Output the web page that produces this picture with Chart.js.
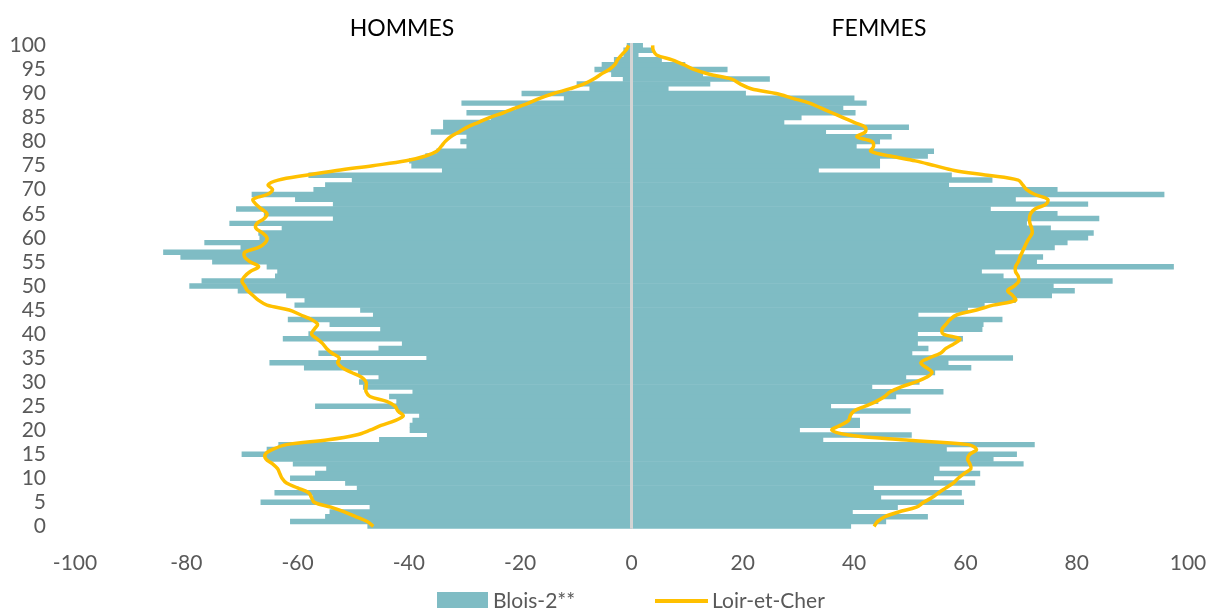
<!DOCTYPE html>
<html>
<head>
<meta charset="utf-8">
<script src="https://cdn.jsdelivr.net/npm/chart.js@4.4.1/dist/chart.umd.min.js"></script>
<style>
  body { margin: 0; background: #fff; }
  #wrap { position: relative; width: 1215px; height: 610px; font-family: Lato, "Open Sans", sans-serif; }
  #chart { position: absolute; left: 0; top: 0; }
  .side { position: absolute; top: 13px; font-size: 23px; line-height: 28px; color: #000; transform: translateX(-50%); }
  .leg { position: absolute; font-size: 21px; line-height: 24px; color: #595959; }
  .swatch { position: absolute; }
</style>
</head>
<body>
<div id="wrap">
  <canvas id="chart" width="1215" height="610"></canvas>
  <div class="side" style="left:402px">HOMMES</div>
  <div class="side" style="left:879px">FEMMES</div>
  <div class="swatch" style="left:437px;top:592px;width:51px;height:16px;background:#7FBCC4"></div>
  <div class="leg" style="left:493px;top:588px">Blois-2**</div>
  <div class="swatch" style="left:655px;top:599px;width:53px;height:4px;background:#FFC000"></div>
  <div class="leg" style="left:712px;top:588px">Loir-et-Cher</div>
</div>
<script>
// ages 0 -> 100
const ages = [
  '0','1','2','3','4','5','6','7','8','9',
  '10','11','12','13','14','15','16','17','18','19',
  '20','21','22','23','24','25','26','27','28','29',
  '30','31','32','33','34','35','36','37','38','39',
  '40','41','42','43','44','45','46','47','48','49',
  '50','51','52','53','54','55','56','57','58','59',
  '60','61','62','63','64','65','66','67','68','69',
  '70','71','72','73','74','75','76','77','78','79',
  '80','81','82','83','84','85','86','87','88','89',
  '90','91','92','93','94','95','96','97','98','99',
  '100'
];

// Blois-2** - hommes (negatif)
const bloisHommes = [
  -47.4, -61.3, -55, -54.2, -47, -66.6, -57.2, -64.1, -49.3, -51.4,
  -61.3, -56.8, -54.8, -60.8, -65.5, -70, -65.5, -63.4, -45.3, -36.7,
  -39.8, -39.8, -39.3, -38.1, -41.9, -56.8, -42.2, -43.5, -39.3, -48.2,
  -48.9, -45.4, -49.1, -58.8, -65, -36.8, -56.2, -45.4, -41.2, -62.6,
  -58, -45.1, -54.2, -61.7, -46.4, -48.7, -60.5, -58.7, -62, -70.7,
  -79.4, -77.2, -64, -63.6, -65.5, -75.3, -81, -84.1, -70.2, -76.7,
  -66.8, -67, -62.8, -72.2, -53.6, -66, -71, -53.6, -60.4, -68.2,
  -57.1, -55, -50.2, -58, -34, -39.5, -39.9, -37, -35, -29.6,
  -30.7, -29.6, -36, -33.8, -33.8, -25.2, -29.6, -20.8, -30.5, -12.1,
  -19.7, -7.5, -9.8, -1.5, -3.6, -6.6, -5.3, -3.1, -1.4, -1.4,
  -0.8
];

// Blois-2** - femmes
const bloisFemmes = [
  39.4, 45.7, 53.2, 39.7, 47.8, 59.7, 44.8, 59.3, 43.5, 61.7,
  54.3, 62.6, 55.3, 70.4, 65, 69.2, 56.6, 72.4, 34.4, 50.3,
  30.2, 41, 41, 39.5, 50.1, 35.8, 44.3, 47.5, 56, 43.2,
  51.7, 49.3, 54.5, 61, 56.9, 68.5, 50.4, 53.3, 51.4, 59.5,
  51.4, 63, 63.2, 66.6, 51.5, 60.4, 63.4, 69, 75.5, 79.6,
  75.8, 86.4, 66.8, 62.9, 97.4, 72.8, 73.9, 65.3, 76, 78.3,
  82, 83, 75.3, 71, 84, 76.5, 64.5, 82, 69, 95.7,
  76.5, 57, 64.8, 57.5, 33.6, 44.6, 44.6, 53.2, 54.3, 40.4,
  44.6, 46.7, 34.9, 49.8, 27.4, 30.5, 40.2, 38, 42.2, 40,
  20.5, 6.6, 14.1, 24.8, 12.8, 17.2, 9.6, 5.4, 1.2, 3.8,
  2
];

// Loir-et-Cher - hommes
const loirHommes = [
  -46.4, -47.5, -49.5, -51.6, -54, -57, -57.5, -58, -60, -62,
  -62.8, -63.2, -63.6, -64.5, -65.7, -65.8, -64.5, -62, -54.5, -49.5,
  -47, -45, -42.5, -41, -42, -42.5, -44, -47, -47.7, -47.7,
  -47.7, -48.5, -50.3, -52, -52.8, -52.5, -53.8, -54.8, -55.5, -56.5,
  -57.5, -57, -56.4, -57.5, -59.5, -61.5, -65.5, -67, -68, -69,
  -69.5, -70, -69.5, -68.5, -67, -68.5, -69.5, -69.5, -67, -65.8,
  -65.5, -66.3, -67.5, -67.3, -66, -65.5, -66.5, -67.5, -68, -65.5,
  -64.5, -65.3, -63.5, -58.5, -53, -46.5, -40.5, -37, -35, -34.2,
  -33.5, -32.5, -31, -29.5, -27.5, -25.5, -23, -20.8, -18.5, -16.5,
  -14, -11, -8.5, -6.8, -5.5, -4, -3, -2.5, -1.8, -1,
  -0.5
];

// Loir-et-Cher - femmes
const loirFemmes = [
  43.6, 44.2, 45.5, 48, 51.2, 52.5, 54, 55.2, 56.5, 57.8,
  58.7, 59.8, 61, 60.8, 60.4, 60.8, 62, 60.5, 48.5, 39,
  36, 37.5, 39, 39.3, 40, 42, 44, 45.5, 46.5, 48.5,
  51, 53, 54, 53, 52, 53.5, 55.5, 56.5, 58, 59,
  56, 55.8, 56.5, 57.2, 58.5, 62, 65, 69, 68.5, 67.6,
  68.8, 69.6, 69.5, 69, 69, 69.5, 69.8, 70.2, 70.6, 71,
  71.5, 72, 71.9, 71.6, 71.5, 71.7, 72.5, 74.5, 74.8, 72.5,
  71, 70.3, 69.5, 64, 58, 54.5, 51, 46.5, 43, 43.5,
  43.2, 40.5, 42, 42, 40, 38, 36, 34, 32, 29,
  26, 21.5, 19.5, 18, 14, 11.2, 9.4, 7.3, 4.5, 3.9,
  3.8
];

const xTicks = [-100, -80, -60, -40, -20, 0, 20, 40, 60, 80, 100];

const teal = '#7FBCC4';
const gold = '#FFC000';
const grey = '#595959';

// vertical axis line at 0, drawn above the bars
const zeroLine = {
  id: 'zeroLine',
  afterDatasetDraw(chart, args) {
    if (args.meta.type !== 'bar') return;
    const ctx = chart.ctx;
    const x = chart.scales.x.getPixelForValue(0);
    ctx.save();
    ctx.strokeStyle = '#D4D4D4';
    ctx.lineWidth = 3;
    ctx.beginPath();
    ctx.moveTo(x, chart.chartArea.top);
    ctx.lineTo(x, chart.chartArea.bottom);
    ctx.stroke();
    ctx.restore();
  }
};

const barDefaults = {
  type: 'bar',
  indexAxis: 'y',
  backgroundColor: teal,
  borderWidth: 0,
  barPercentage: 1,
  categoryPercentage: 1,
  grouped: false,
  order: 2
};

const lineDefaults = {
  type: 'line',
  indexAxis: 'y',
  borderColor: gold,
  borderWidth: 3.5,
  pointRadius: 0,
  tension: 0.35,
  fill: false,
  order: 1
};

new Chart(document.getElementById('chart'), {
  data: {
    labels: ages,
    datasets: [
      Object.assign({ label: 'Blois-2**', data: bloisHommes }, barDefaults),
      Object.assign({ label: 'Blois-2**', data: bloisFemmes }, barDefaults),
      Object.assign({ label: 'Loir-et-Cher', data: loirHommes }, lineDefaults),
      Object.assign({ label: 'Loir-et-Cher', data: loirFemmes }, lineDefaults)
    ]
  },
  options: {
    indexAxis: 'y',
    responsive: false,
    animation: false,
    devicePixelRatio: 1,
    layout: { padding: { top: 43, right: 27, bottom: 12, left: 0 } },
    plugins: {
      legend: { display: false },
      tooltip: { enabled: false }
    },
    scales: {
      x: {
        type: 'linear',
        min: -100,
        max: 100,
        afterBuildTicks: s => { s.ticks = xTicks.map(v => ({ value: v })); },
        afterFit: s => { s.paddingLeft = 0; s.paddingRight = 0; },
        grid: { display: false, drawTicks: false },
        border: { display: false },
        ticks: { padding: 22, color: grey, font: { family: 'Lato', size: 21 } }
      },
      y: {
        type: 'category',
        reverse: true,
        afterFit: s => { s.width = 75; },
        grid: { display: false, drawTicks: false },
        border: { display: false },
        ticks: {
          autoSkip: false,
          padding: 29,
          color: grey,
          font: { family: 'Lato', size: 21 },
          callback: (v, i) => (i % 5 === 0 ? ages[i] : null)
        }
      }
    }
  },
  plugins: [zeroLine]
});
</script>
</body>
</html>
